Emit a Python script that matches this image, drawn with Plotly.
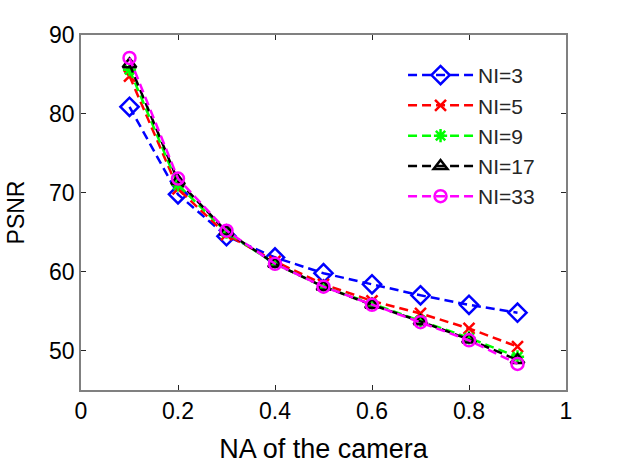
import plotly.graph_objects as go

na = [0.1, 0.2, 0.3, 0.4, 0.5, 0.6, 0.7, 0.8, 0.9]
ni3 = [80.9, 69.8, 64.5, 61.8, 59.8, 58.4, 57.0, 55.8, 54.8]
ni5 = [84.8, 70.5, 64.7, 61.3, 58.4, 56.3, 54.7, 52.8, 50.5]
ni9 = [85.6, 71.0, 65.0, 61.0, 58.1, 55.9, 53.8, 51.6, 49.2]
ni17 = [86.3, 71.5, 65.1, 61.0, 58.1, 55.8, 53.7, 51.4, 48.8]
ni33 = [87.1, 71.8, 65.2, 61.0, 58.1, 55.8, 53.6, 51.3, 48.3]

names = ["NI=3", "NI=5", "NI=9", "NI=17", "NI=33"]
series = [ni3, ni5, ni9, ni17, ni33]
colors = ["#0000ff", "#ff0000", "#00ff00", "#000000", "#ff00ff"]
symbols = ["diamond-open", "x-thin-open", "asterisk-open", "triangle-up-open", "circle-open"]
sizes = [14, 11, 11, 12, 12]

FONT = "Liberation Sans, Arial"

fig = go.Figure()
for n, y, c, s, sz in zip(names, series, colors, symbols, sizes):
    fig.add_trace(go.Scatter(
        x=na, y=y, name=n, mode="lines+markers",
        line=dict(color=c, width=2.5, dash="9px,5px"),
        marker=dict(symbol=s, size=sz, color=c, line=dict(color=c, width=2.5)),
    ))

axis_common = dict(
    showline=True, linecolor="#808080", linewidth=1.5, mirror="ticks",
    ticks="inside", ticklen=5, tickcolor="#262626", tickwidth=1,
    showgrid=False, zeroline=False,
    tickfont=dict(family=FONT, size=23, color="#000000"),
)
fig.update_xaxes(range=[0, 1], tickvals=[0, 0.2, 0.4, 0.6, 0.8, 1],
                 ticktext=["0", "0.2", "0.4", "0.6", "0.8", "1"],
                 title=dict(text="NA of the camera", font=dict(family=FONT, size=27, color="#000"), standoff=16),
                 **axis_common)
fig.update_yaxes(range=[45, 90], tickvals=[50, 60, 70, 80, 90],
                 title=dict(text="PSNR", font=dict(family=FONT, size=23, color="#000"), standoff=18),
                 **axis_common)
fig.update_layout(
    width=625, height=471,
    margin=dict(l=81, r=59, t=35, b=81),
    plot_bgcolor="white", paper_bgcolor="white",
    legend=dict(x=0.664, y=0.944, xanchor="left", yanchor="top",
                bgcolor="rgba(0,0,0,0)", borderwidth=0,
                font=dict(family=FONT, size=21, color="#262626"),
                tracegroupgap=0, itemwidth=65),
    showlegend=True,
)
fig.write_html("out.html")
